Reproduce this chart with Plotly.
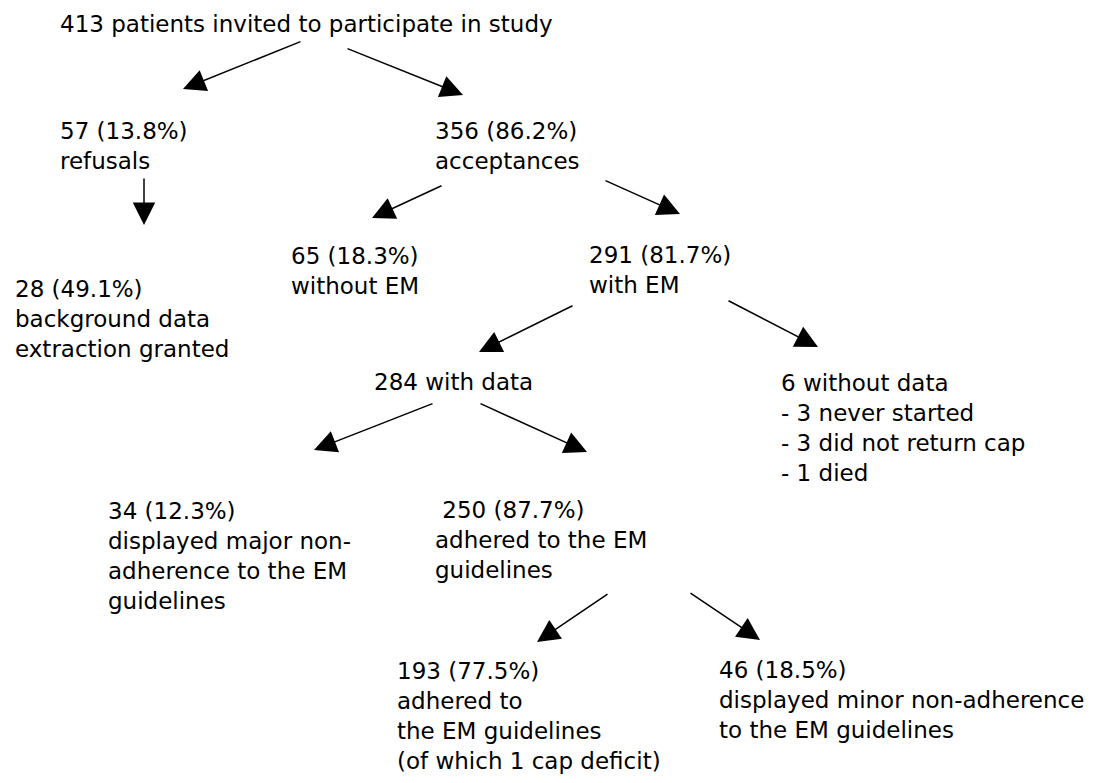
import plotly.graph_objects as go

# ---- data: node labels (text of the flow chart) ----
node_labels = [
    "413 patients invited to participate in study",
    "57 (13.8%)<br>refusals",
    "356 (86.2%)<br>acceptances",
    "28 (49.1%)<br>background data<br>extraction granted",
    "65 (18.3%)<br>without EM",
    "291 (81.7%)<br>with EM",
    "284 with data",
    "6 without data<br>- 3 never started<br>- 3 did not return cap<br>- 1 died",
    "34 (12.3%)<br>displayed major non-<br>adherence to the EM<br>guidelines",
    "\u00a0250 (87.7%)<br>adhered to the EM<br>guidelines",
    "193 (77.5%)<br>adhered to<br>the EM guidelines<br>(of which 1 cap deficit)",
    "46 (18.5%)<br>displayed minor non-adherence<br>to the EM guidelines",
]

# ---- layout: left x and first-line centre y of each node (pixel frame) ----
node_x = [59, 59, 434, 14, 290, 588, 373, 780, 107, 434, 396, 718]
node_y = [25, 132, 132, 290, 257, 256, 383, 384, 512, 511, 672, 671]

# ---- layout: arrows (tail x, tail y, tip x, tip y) ----
arrows = [
    (302, 41, 183, 89),
    (346, 48, 463, 95),
    (144, 177, 144, 225),
    (443, 185, 372, 218),
    (604, 180, 680, 214),
    (727, 300, 818, 347),
    (574, 305, 479, 352),
    (434, 403, 314, 450),
    (479, 403, 587, 452),
    (609, 593, 537, 642),
    (689, 592, 760, 640),
]

W, H = 1103, 783
FONT = dict(family="DejaVu Sans, Verdana, sans-serif", size=23, color="black")
HALF_LINE = 15

fig = go.Figure()
annotations = []
for label, x, y in zip(node_labels, node_x, node_y):
    annotations.append(dict(
        x=x, y=y - HALF_LINE, xref="x", yref="y",
        text=label, showarrow=False, xanchor="left", yanchor="top",
        align="left", font=FONT, borderpad=0,
    ))
for tx, ty, hx, hy in arrows:
    annotations.append(dict(
        x=hx, y=hy, ax=tx, ay=ty, xref="x", yref="y", axref="x", ayref="y",
        text="", showarrow=True, arrowhead=2, arrowsize=3, arrowwidth=1.5,
        arrowcolor="black", standoff=0, startstandoff=0,
    ))

fig.update_layout(
    width=W, height=H,
    margin=dict(l=0, r=0, t=0, b=0),
    paper_bgcolor="white", plot_bgcolor="white",
    xaxis=dict(range=[0, W], visible=False, fixedrange=True),
    yaxis=dict(range=[H, 0], visible=False, fixedrange=True),
    annotations=annotations,
    showlegend=False,
)

fig.write_html("out.html", config={"displayModeBar": False},
               post_script="document.body.style.margin='0';")
